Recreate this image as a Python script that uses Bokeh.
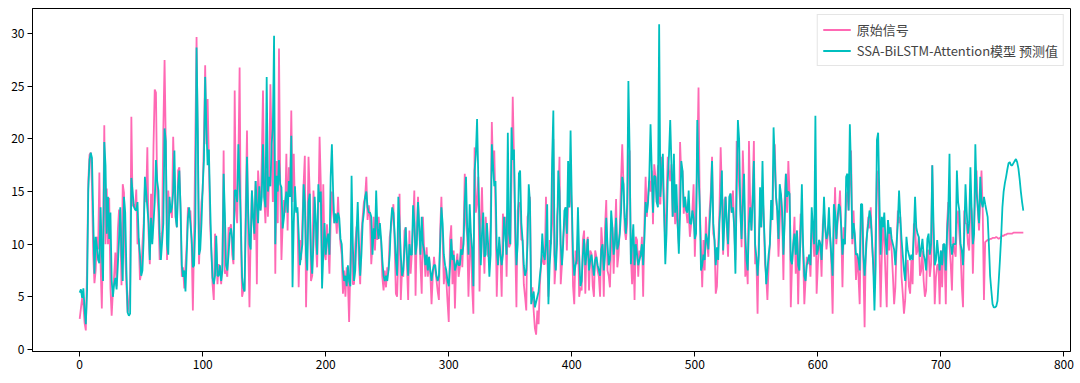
from bokeh.plotting import figure
from bokeh.models import Range1d, FixedTicker
from bokeh.embed import file_html
from bokeh.resources import INLINE

# ---- data: original signal (pink) in segments ----
orig_000 = [2.9,3.9,4.9,4.2,2.5,1.8,8.0,16.0,18.5,18.7,
 15.5,9.0,6.3,7.5,10.7,9.5,16.8,8.0,3.9,11.0,
 21.3,10.0,15.3,10.0,14.4,5.8,3.2,5.5,7.0,9.2,
 6.0,11.3,13.3,12.0,6.1,15.7,14.9,9.0,6.0,3.5,
 4.5,6.0,22.1,13.6,13.8,13.3,15.2,10.0,10.5,6.6,
 7.2,10.0,12.0,15.5,14.0,19.2,11.0,8.1,14.8,10.5,
 19.3,24.7]
orig_062 = [24.4,15.0,13.0,8.5,10.0,11.3,21.0,27.5,19.5,8.5,
 15.1,12.9,13.5,12.5,20.2,16.0,12.6,11.6,17.0,17.3,
 13.2,6.9,7.8,5.8,8.0,10.0,13.5,12.5,13.2,10.0,
 3.7,10.7,20.0,29.7,19.5,8.1,11.3,14.0,15.1,20.0,
 27.0,19.5,23.8,18.0,12.0,9.4,6.2,4.7,11.0,10.0,
 6.2,8.1,7.5,6.2,8.1,18.9,7.2,7.5,6.9,11.6,
 11.3,11.9,9.0,8.1,24.6]
orig_127 = [13.2,12.0,18.0,26.8,10.7,5.0,5.6,5.6,14.0,20.8,
 10.0,4.0,11.0,15.1,12.6,10.4,16.0,6.2,17.0,14.8,
 13.2,18.0,24.6,14.5,12.0,17.0,12.6,16.4,25.2,19.5,
 14.0,22.0,7.2,17.9,12.0,28.6,15.7,8.5,12.0,14.2,
 13.0,18.6,11.3,17.3,15.0,22.7,14.0,18.6,13.2,13.5,
 13.0,5.9,10.4,8.5,12.0,15.7,18.4,4.0,10.0,18.3,
 14.8,6.5,7.0,15.1,13.0]
orig_192 = [10.0,7.8,13.0,20.2,15.7,8.0,15.7,9.1,8.5,11.9,
 10.0,7.2,12.0,15.0,13.0,12.0,12.9,11.0,14.5,11.6,
 10.0,9.0,5.3,7.5,5.0,7.8,6.5,2.6,7.8,12.0,
 6.2,6.2,10.0,11.6,12.0,8.1,6.2,11.0,12.6,14.0,
 14.5,16.4,12.3,13.7,12.5,8.1,10.0,12.6,9.4,12.0,
 10.4,12.6,11.0,10.4,6.9,5.6,7.5,5.9,7.8,7.5,
 10.7,11.5,12.5,13.8,10.0,5.3]
orig_258 = [5.0,9.0,14.8,4.7,7.5,6.9,11.3,11.6,8.0,4.7,
 11.3,7.2,9.1,12.0,15.1,5.1,11.3,14.5,11.6,8.0,
 5.3,12.6,9.4,6.9,9.7,6.9,8.8,7.2,4.3,6.9,
 8.8,7.5,6.6,5.5,4.7,11.3,14.5,10.4,6.2,7.8,
 6.6,4.5,2.6,10.4,11.8,6.2,9.4,3.9,8.1,9.1,
 6.9,7.8,10.7,7.8,11.0,16.7,12.0,10.7,5.0,9.0,
 11.0,6.0,3.4,19.2,13.0]
orig_323 = [14.0,16.4,5.5,11.9,15.4,10.4,7.2,12.6,10.7,8.8,
 9.0,12.0,21.6,17.0,18.9,13.2,5.0,9.4,10.0,8.8,
 5.0,12.9,11.0,12.6,6.9,13.0,9.7,10.0,16.0,24.0,
 18.3,10.0,4.0,13.2,14.0,13.5,10.4,10.4,6.2,5.0,
 3.7,12.6,13.0,14.5,5.0,5.9,3.7,2.0,1.4,3.7,
 2.4,6.0,8.1,9.0,8.1,8.1,14.5,9.0,5.0,10.4,
 10.0,12.0,20.0,6.2,8.1]
orig_388 = [12.6,14.0,18.3,6.2,8.1,10.7,12.0,13.5,9.4,14.0,
 13.5,16.0,13.2,6.0,4.3,9.4,8.1,11.0,5.0,5.9,
 5.6,10.4,11.3,5.3,10.0,10.7,5.6,9.4,9.1,6.0,
 5.0,9.4,8.8,7.5,6.9,5.0,11.6,9.7,5.0,11.6,
 14.2,7.5,7.0,5.9,10.0,11.6,7.2,10.7,14.3,7.8,
 9.0,11.6,16.0,19.5,15.7,11.3,10.4,12.0,18.0,18.9,
 9.0,6.2,10.0,4.7,10.7]
orig_453 = [10.4,6.9,9.4,8.8,10.7,5.0,11.9,16.4,12.6,14.5,
 16.0,15.0,17.0,11.9,17.6,16.4,14.0,17.5,14.0,13.8,
 18.3,16.0,13.2,10.0,14.5,18.3,17.0,16.0,17.6,12.6,
 15.0,11.9,13.5,11.9,10.0,19.7,16.5,17.0,12.9,14.5,
 13.2,12.0,13.0,10.7,11.9,13.2,15.7,8.8,12.6,18.0,
 24.9,13.8,10.0,5.9,10.4,7.5,12.6,10.0,8.8,13.2,
 15.0,18.3,11.0,10.4,5.3]
orig_518 = [6.0,10.0,13.2,19.2,15.0,9.0,14.2,14.5,11.6,8.8,
 13.0,14.8,13.0,15.1,11.6,8.5,19.8,18.0,15.5,13.5,
 9.7,18.9,15.0,6.9,8.5,6.2,19.8,14.0,11.3,15.0,
 19.8,8.1,8.8,3.4,10.7,13.0,11.6,15.0,12.6,8.1,
 7.0,4.7,8.0,10.0,13.0,12.3,17.0,19.5,14.5,13.2,
 8.8,12.0,14.8,12.3,6.6,14.2,16.7,13.0,17.9,14.8,
 4.0,8.1,10.0,12.6,7.2,11.3]
orig_584 = [4.3,10.0,12.9,12.0,9.1,4.3,6.6,8.8,8.1,9.0,
 6.9,11.0,11.6,8.8,15.0,5.3,8.0,10.4,10.0,6.9,
 11.9,13.0,11.6,9.5,10.7,12.0,10.7,8.0,3.4,11.0,
 15.4,10.0,12.0,13.0,15.1,11.6,5.9,11.6,10.0,14.0,
 15.0,13.2,16.0,18.9,10.0,13.2,10.0,6.6,9.1,7.0,
 4.3,12.0,13.8,8.1,2.1,10.0,11.0,12.6,11.5,13.5,
 10.0,8.1,6.0,11.6,17.0]
orig_649 = [16.1,10.0,4.0,9.0,11.6,10.4,7.0,4.0,12.3,9.4,
 11.6,9.4,7.0,4.3,5.9,10.0,13.2,12.0,12.6,6.9,
 5.3,3.4,4.7,8.0,8.5,6.0,5.3,8.5,6.2,11.9,
 12.0,9.0,9.4,10.7,7.0,7.5,9.4,6.5,5.0,5.6,
 9.4,9.4,6.9,8.1,17.5,10.0,4.3,6.9,8.0,8.1,
 4.3,9.4,5.9,10.0,8.8,4.3,11.9,14.0,10.0,8.1,
 5.6,10.7,9.4,8.8]
orig_713 = [12.0,13.2,11.0,9.4,6.0,4.0,13.2,12.0,11.9,10.0,
 9.4,14.0,13.2,7.2,11.9,15.0,17.0,13.2,11.3,14.0,
 17.0,13.2,4.7,10.2,10.3,10.4,10.4,10.5,10.5,10.6,
 10.6,10.6,10.7,10.6,10.5,10.6,10.7,10.8,10.8,10.9,
 10.9,11.0,11.0,11.0,11.0,11.0,11.1,11.1,11.1,11.1,
 11.1,11.1,11.1,11.1,11.1]

# ---- data: SSA-BiLSTM-Attention prediction (teal) ----
pred_000 = [5.4,5.7,4.9,5.8,3.8,2.4,5.5,15.2,18.0,18.7,
 18.2,12.5,7.2,10.7,9.8,8.5,8.2,13.5,9.0,6.5,
 19.7,17.5,11.0,14.5,10.5,13.0,6.5,5.0,6.2,6.8,
 5.7,8.0,10.5,13.5,9.0,6.5,14.5,13.0,7.5,3.5,
 3.2,3.4,16.3,15.0,13.6,13.3,13.2,14.0,10.5,9.0,
 7.0,7.5,10.5,16.4,15.0,13.5,12.0,8.5,12.5,10.0,
 12.0,14.0]
pred_062 = [18.0,16.0,15.1,11.0,8.5,10.2,12.0,21.0,19.8,10.0,
 9.0,14.5,13.0,13.5,15.0,18.9,12.6,11.6,15.5,17.0,
 13.5,8.0,6.9,7.5,5.5,9.0,12.5,13.5,12.0,10.5,
 7.8,8.0,12.0,28.7,21.0,9.0,9.5,12.0,15.5,18.0,
 25.9,21.0,17.5,19.0,14.0,9.5,6.8,6.2,7.0,10.8,
 7.0,7.0,8.0,6.5,7.5,16.7,13.0,8.0,7.5,9.0,
 11.0,11.5,10.5,8.5,15.1]
pred_127 = [15.1,14.0,19.5,16.0,12.0,6.9,5.8,5.5,12.0,18.3,
 13.0,10.0,9.5,15.1,12.6,11.0,16.0,13.8,12.0,15.5,
 13.2,14.5,19.5,14.5,13.5,25.9,15.0,16.4,15.5,19.5,
 21.0,29.8,10.0,16.5,15.0,18.0,15.7,15.4,11.5,12.5,
 14.0,15.0,13.0,16.0,14.5,20.3,5.9,12.0,15.5,13.0,
 13.5,11.0,8.0,9.0,10.0,15.7,14.0,9.0,7.5,14.0,
 14.8,9.0,7.2,10.0,14.5]
pred_192 = [12.0,9.0,15.7,14.0,15.0,5.8,9.0,12.0,9.0,10.5,
 11.0,9.0,16.4,19.5,15.0,12.0,12.9,12.0,13.0,12.5,
 10.5,10.0,7.5,6.5,7.0,6.0,8.0,6.5,6.0,16.5,
 10.0,6.5,7.5,11.0,14.0,10.0,7.0,9.0,12.0,13.0,
 14.5,15.0,13.5,13.0,13.0,12.6,9.0,11.5,10.5,15.1,
 11.5,10.5,12.0,10.5,8.5,7.0,6.5,7.0,6.5,7.5,
 9.0,12.0,13.5,13.0,11.0,8.5]
pred_258 = [7.0,14.5,12.0,9.0,7.0,7.5,9.5,11.6,9.0,7.0,
 10.0,9.0,9.0,13.7,12.0,9.0,10.0,14.0,11.6,9.0,
 12.6,10.0,9.4,8.0,9.0,7.5,8.8,7.5,6.5,7.5,
 8.0,8.0,7.0,6.5,7.0,10.0,13.5,12.0,9.0,8.0,
 7.5,6.5,6.0,8.0,10.5,8.5,9.0,7.5,8.0,8.5,
 8.0,8.0,9.5,9.0,10.0,14.0,16.4,11.5,9.0,13.8,
 11.0,9.5,6.0,17.0,18.5]
pred_323 = [21.9,16.4,12.0,8.0,11.0,13.0,8.8,9.0,12.0,10.0,
 6.9,9.0,19.5,17.5,15.5,16.0,9.5,8.0,10.7,9.0,
 8.0,9.0,12.6,11.0,9.0,20.6,11.0,10.0,21.1,18.0,
 19.0,12.0,8.0,10.0,16.7,17.0,12.0,10.4,8.0,7.0,
 7.5,10.0,15.7,14.0,4.3,5.0,5.5,4.0,4.5,5.0,
 5.5,6.9,8.0,11.0,9.0,8.5,10.0,13.8,4.3,8.0,
 10.0,18.0,22.7,9.0,7.5]
pred_388 = [10.0,17.0,15.0,10.0,8.0,10.0,13.2,13.5,11.0,17.9,
 13.5,20.8,14.0,9.0,7.0,8.0,8.5,13.5,9.0,6.0,
 6.5,9.0,10.5,8.0,9.0,10.5,7.5,8.5,9.0,8.0,
 7.0,8.5,8.8,8.0,7.5,7.0,9.5,10.0,7.5,9.0,
 12.5,10.0,8.0,8.5,13.2,11.6,9.0,10.0,12.5,9.5,
 10.0,11.0,13.0,16.4,15.7,12.5,11.0,13.8,25.5,18.9,
 8.1,10.0,11.9,8.0,10.0]
pred_453 = [9.0,8.0,8.5,9.0,10.0,8.0,10.5,14.0,13.0,14.0,
 16.5,21.4,17.0,13.0,16.5,16.4,14.0,13.5,30.9,14.5,
 16.5,18.6,13.2,8.1,11.0,16.0,18.5,21.8,17.6,12.6,
 18.6,13.0,15.7,12.0,9.1,13.0,17.9,17.0,13.5,14.5,
 13.2,13.0,15.1,12.0,11.9,13.2,12.5,10.5,11.0,21.8,
 17.0,13.8,7.5,8.0,9.0,8.5,11.0,10.5,9.5,12.0,
 14.0,17.9,12.0,10.4,8.0]
pred_518 = [9.7,8.5,12.0,14.0,17.0,9.4,12.0,14.5,12.0,10.0,
 14.5,14.8,13.0,13.5,11.6,7.2,15.0,21.8,20.0,13.2,
 10.5,14.0,16.7,11.0,8.5,7.5,12.0,13.5,11.3,14.0,
 17.9,10.0,8.8,7.0,9.0,15.4,11.6,17.9,12.6,9.5,
 6.2,7.5,9.0,10.0,14.2,12.3,21.1,18.0,14.5,13.2,
 10.5,15.7,14.8,13.0,9.0,12.0,16.7,14.5,15.0,14.8,
 8.5,8.1,10.0,11.0,9.0,11.3]
pred_584 = [8.0,7.5,11.0,15.7,10.0,7.0,6.5,8.0,8.5,9.0,
 8.0,13.5,11.6,10.0,22.2,9.0,9.4,10.4,10.0,8.5,
 11.0,14.5,11.6,10.5,11.0,13.5,10.7,8.8,7.0,13.8,
 13.0,10.5,12.5,13.8,13.5,11.6,9.0,10.5,10.0,16.4,
 16.7,13.2,21.4,17.0,10.5,12.0,11.0,9.0,9.1,8.5,
 7.5,13.8,13.8,9.0,7.0,9.0,11.0,12.0,13.2,12.5,
 10.5,8.0,3.7,8.0,19.9]
pred_649 = [20.6,14.5,9.0,12.6,11.6,13.0,10.4,9.0,12.3,11.0,
 11.6,10.5,10.0,9.5,8.0,10.0,12.0,15.1,12.6,10.5,
 9.0,7.5,6.5,10.7,9.5,9.0,8.5,9.0,8.5,11.0,
 14.5,11.6,11.0,10.7,8.8,9.5,10.5,9.0,8.5,7.5,
 10.5,11.0,9.0,10.0,17.5,12.0,8.0,8.5,10.4,9.0,
 7.5,9.4,8.0,10.0,10.0,7.5,11.0,13.0,18.6,10.0,
 9.0,10.0,10.0,10.0]
pred_713 = [17.0,14.0,13.2,10.0,9.4,8.0,11.0,15.7,13.0,11.0,
 12.0,17.3,13.2,10.0,11.0,19.5,15.0,13.5,12.0,16.4,
 14.0,13.5,14.5,13.8,13.2,12.6,10.0,7.0,5.6,4.3,
 4.0,4.0,4.1,4.6,6.5,8.5,10.7,13.5,15.0,15.8,
 16.4,17.1,17.7,17.8,17.5,17.5,17.7,17.9,18.1,17.8,
 17.2,16.2,15.0,14.0,13.2]

x_ticks = [0, 100, 200, 300, 400, 500, 600, 700, 800]
y_ticks = [0, 5, 10, 15, 20, 25, 30]
label_orig = "原始信号"
label_pred = "SSA-BiLSTM-Attention模型 预测值"

orig = (orig_000 + orig_062 + orig_127 + orig_192 + orig_258 + orig_323 +
        orig_388 + orig_453 + orig_518 + orig_584 + orig_649 + orig_713)
pred = (pred_000 + pred_062 + pred_127 + pred_192 + pred_258 + pred_323 +
        pred_388 + pred_453 + pred_518 + pred_584 + pred_649 + pred_713)
x_orig = list(range(len(orig)))
x_pred = list(range(len(pred)))

FONT = "Noto Sans CJK SC"

p = figure(width=1080, height=383, output_backend="svg", toolbar_location=None,
           x_range=Range1d(-38.35, 805.35), y_range=Range1d(-0.2, 32.4))
p.min_border_left = 32
p.min_border_right = 10
p.min_border_top = 8
p.min_border_bottom = 32
p.background_fill_color = "white"
p.border_fill_color = "white"
p.outline_line_color = "black"
p.outline_line_width = 1
p.xgrid.visible = False
p.ygrid.visible = False

p.line(x_orig, orig, line_color="#ff69b4", line_width=1.8, legend_label=label_orig)
p.line(x_pred, pred, line_color="#00bfbf", line_width=1.8, legend_label=label_pred)

for ax in (p.xaxis[0], p.yaxis[0]):
    ax.axis_line_color = "black"
    ax.major_tick_line_color = "black"
    ax.major_tick_out = 5
    ax.major_tick_in = 0
    ax.minor_tick_line_color = None
    ax.major_label_text_font = FONT
    ax.major_label_text_font_size = "12px"
    ax.major_label_text_color = "black"
    ax.major_label_standoff = 3
p.xaxis.ticker = FixedTicker(ticks=x_ticks)
p.yaxis.ticker = FixedTicker(ticks=y_ticks)

p.legend.location = "top_right"
p.legend.label_text_font = FONT
p.legend.label_text_font_size = "13px"
p.legend.border_line_color = "#cccccc"
p.legend.background_fill_alpha = 0.8
p.legend.glyph_width = 28
p.legend.glyph_height = 17
p.legend.label_height = 17
p.legend.spacing = 2
p.legend.padding = 5
p.legend.margin = 6
p.legend.label_standoff = 6

open("out.html", "w").write(file_html(p, INLINE))
